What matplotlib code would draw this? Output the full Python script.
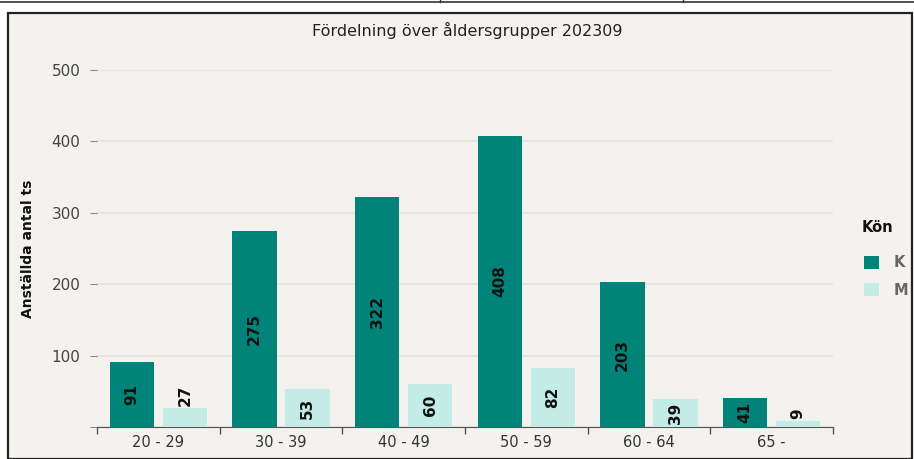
import matplotlib.pyplot as plt
from matplotlib.patches import Rectangle, Patch
from matplotlib.lines import Line2D
import numpy as np

age_groups = ["20 - 29", "30 - 39", "40 - 49", "50 - 59", "60 - 64", "65 -"]
k_values = [91, 275, 322, 408, 203, 41]
m_values = [27, 53, 60, 82, 39, 9]
series = [("K", k_values, "#00847a"), ("M", m_values, "#c3ece6")]

plt.rcParams["font.family"] = ["DejaVu Sans"]

W, H = 914, 459
fig = plt.figure(figsize=(W / 100, H / 100), dpi=100)
fig.patch.set_facecolor("white")

# panel with border, and the cut-off table lines at the very top
fig.patches.append(Rectangle((8 / W, 0), 904 / W, 1 - 13 / H, transform=fig.transFigure,
                             facecolor="#f3f2ee", edgecolor="#222222", linewidth=1.6,
                             zorder=-5))
fig.lines.append(Line2D([0, 1], [1 - 2 / H, 1 - 2 / H], transform=fig.transFigure,
                        color="#333333", linewidth=1.2))
for xp in (440, 683):
    fig.lines.append(Line2D([xp / W, xp / W], [1, 1 - 2 / H], transform=fig.transFigure,
                            color="#333333", linewidth=1.0))

ax = fig.add_axes([97 / W, 1 - 427 / H, 736 / W, 357 / H])
ax.set_facecolor("none")

x = np.arange(len(age_groups))
width = 0.36
offset = 0.216
for i, (name, vals, color) in enumerate(series):
    pos = x + (-offset if i == 0 else offset)
    ax.bar(pos, vals, width, color=color, zorder=3)
    for p, v in zip(pos, vals):
        if v < 32:
            ax.text(p, v + 2, str(v), rotation=90, ha="center", va="bottom",
                    fontsize=11, fontweight="bold", color="#111111", zorder=4)
        else:
            ax.text(p, v / 2, str(v), rotation=90, ha="center", va="center",
                    fontsize=11, fontweight="bold", color="#111111", zorder=4)

ax.set_xlim(-0.5, len(age_groups) - 0.5)
ax.set_ylim(0, 500)
ax.set_yticks([0, 100, 200, 300, 400, 500])
ax.set_yticklabels(["", "100", "200", "300", "400", "500"])
ax.yaxis.grid(True, color="#e4e3df", linewidth=1.2, zorder=0)
ax.set_axisbelow(True)

ax.set_xticks(x)
ax.set_xticklabels(age_groups)
ax.set_xticks(np.arange(len(age_groups) + 1) - 0.5, minor=True)
ax.tick_params(axis="x", which="major", length=0, pad=6, labelsize=10.5, labelcolor="#333333")
ax.tick_params(axis="x", which="minor", length=5, color="#555555", width=1)
ax.tick_params(axis="y", length=5, color="#888888", pad=7, labelsize=11, labelcolor="#444444")

for s in ("top", "right", "left"):
    ax.spines[s].set_visible(False)
ax.spines["bottom"].set_color("#555555")

ax.set_ylabel("Anställda antal ts", fontsize=10, fontweight="bold", color="#111111", labelpad=12)

fig.text(467 / W, 1 - 30 / H, "Fördelning över åldersgrupper 202309", ha="center", va="center",
         fontsize=11.5, color="#222222")

# legend title placed separately to get the larger gap above the entries
fig.text(862 / W, 1 - 228 / H, "Kön", ha="left", va="center",
         fontsize=10.5, fontweight="bold", color="#111111")
handles = [Patch(facecolor=c, edgecolor="none") for _, _, c in series]
leg = fig.legend(handles, [n for n, _, _ in series], loc="upper left",
                 bbox_to_anchor=(851 / W, 1 - 242 / H), frameon=False,
                 handlelength=1.0, handleheight=1.0, labelspacing=0.85, handletextpad=1.0,
                 prop={"weight": "bold", "size": 10.5})
for t in leg.get_texts():
    t.set_color("#666666")

fig.savefig("out.png", dpi=100, facecolor=fig.get_facecolor())
